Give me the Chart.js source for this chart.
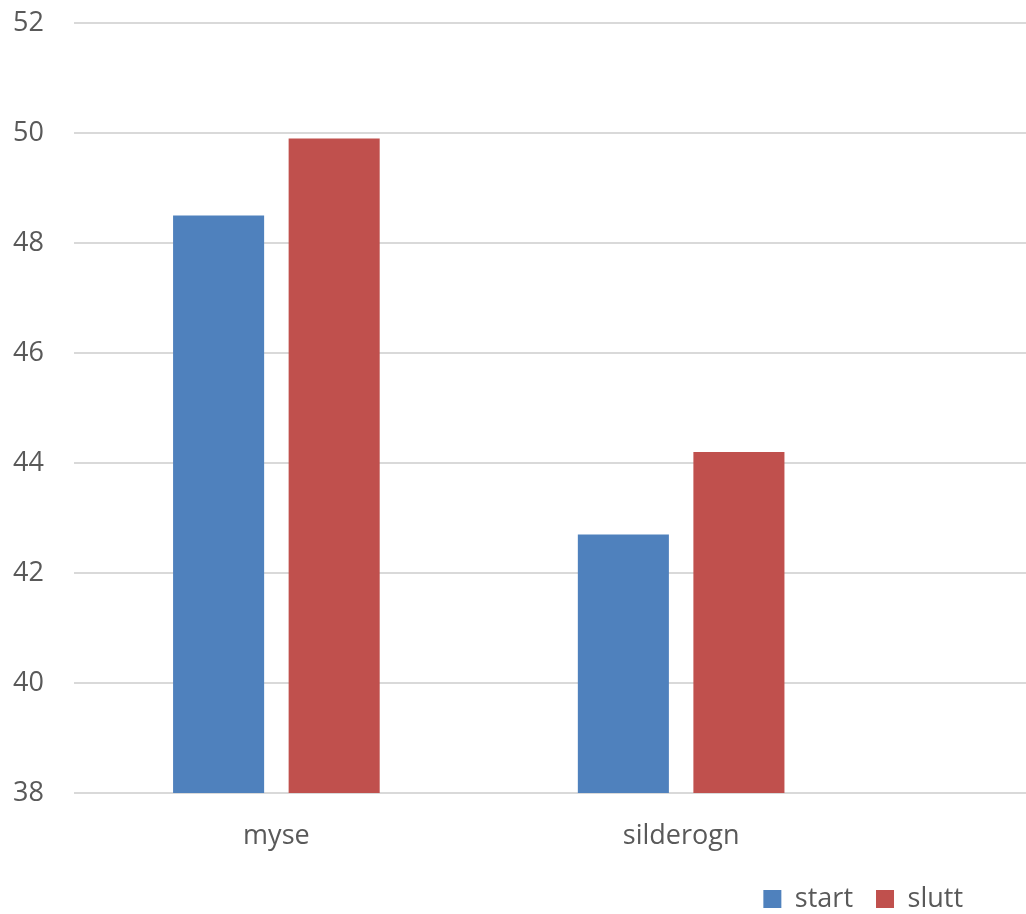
<!DOCTYPE html>
<html>
<head>
<meta charset="utf-8">
<title>myse / silderogn</title>
<script src="https://cdn.jsdelivr.net/npm/chart.js@4/dist/chart.umd.min.js"></script>
<style>
  html, body { margin: 0; padding: 0; background: #ffffff; }
  #wrap { width: 1026px; height: 914px; }
</style>
</head>
<body>
<div id="wrap"><canvas id="chart" width="1026" height="914"></canvas></div>
<script>
// Categories and the two measurement series
const categories = ['myse', 'silderogn'];
const seriesNames = ['start', 'slutt'];
const startValues = [48.5, 42.7];
const sluttValues = [49.9, 44.2];

// Value axis range and step
const yMin = 38;
const yMax = 52;
const yStep = 2;

const textColor = '#595959';
const gridColor = '#d9d9d9';
const fontFamily = "'Open Sans', 'Liberation Sans', sans-serif";

// Place the legend in the lower right corner below the axis labels
const legendPlace = {
  id: 'legendPlace',
  afterLayout(chart) {
    const lg = chart.legend;
    const h = lg.height;
    lg.top = 862.5;
    lg.bottom = lg.top + h;
    lg.right = 986;
  }
};

new Chart(document.getElementById('chart'), {
  type: 'bar',
  data: {
    datasets: [
      {
        label: seriesNames[0],
        data: startValues.map((v, i) => ({ x: i, y: v })),
        backgroundColor: '#4f81bd'
      },
      {
        label: seriesNames[1],
        data: sluttValues.map((v, i) => ({ x: i, y: v })),
        backgroundColor: '#c0504d'
      }
    ]
  },
  options: {
    responsive: false,
    animation: false,
    categoryPercentage: 0.571,
    barPercentage: 0.788,
    layout: { padding: { top: 23, left: 0, right: 0, bottom: 0 } },
    plugins: {
      tooltip: { enabled: false },
      legend: {
        position: 'bottom',
        align: 'end',
        labels: {
          boxWidth: 18,
          boxHeight: 18,
          padding: 23,
          color: textColor,
          font: { family: fontFamily, size: 27 }
        }
      }
    },
    scales: {
      x: {
        type: 'linear',
        min: -0.5,
        max: 1.852,
        offset: false,
        bounds: 'data',
        grid: { display: false, drawTicks: false },
        border: { display: false },
        ticks: {
          padding: 27,
          color: textColor,
          font: { family: fontFamily, size: 27 },
          callback: (value) => categories[value] ?? ''
        },
        afterBuildTicks(scale) {
          scale.ticks = categories.map((c, i) => ({ value: i }));
        },
        afterFit(scale) { scale.height = 61; }
      },
      y: {
        min: yMin,
        max: yMax,
        grid: {
          color: gridColor,
          lineWidth: 2,
          drawTicks: true,
          tickLength: 30,
          tickColor: 'rgba(0,0,0,0)'
        },
        border: { display: false },
        ticks: {
          stepSize: yStep,
          padding: 0,
          color: textColor,
          font: { family: fontFamily, size: 27 }
        },
        afterFit(scale) { scale.width = 74; }
      }
    }
  },
  plugins: [legendPlace]
});
</script>
</body>
</html>
